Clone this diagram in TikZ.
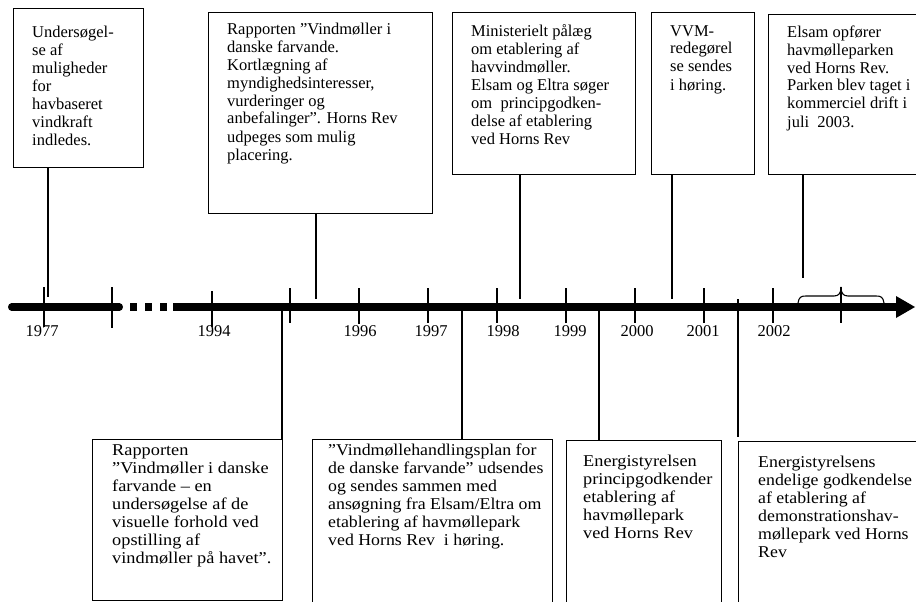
\documentclass[tikz,border=0pt]{standalone}
\usepackage{fontspec}
\setmainfont{Liberation Serif}
\newfontfamily\wideA[FakeStretch=1.11]{Liberation Serif}
\newfontfamily\wideB[FakeStretch=1.08]{Liberation Serif}
\begin{document}
\begin{tikzpicture}[x=1pt,y=-1pt,
  box/.style={draw=black,line width=1.2pt,fill=white,inner sep=0pt,anchor=north west},
  txt/.style={anchor=base west,inner sep=0pt,align=left,font=\fontsize{16.5}{18}\selectfont},
  txtA/.style={txt,font=\wideA\fontsize{16.5}{18}\selectfont},
  txtB/.style={txt,font=\wideB\fontsize{16.5}{18}\selectfont},
  yr/.style={anchor=base,inner sep=0pt,font=\fontsize{16.5}{18}\selectfont},
  conn/.style={line width=1.2pt},
  tick/.style={line width=1.2pt}]
\useasboundingbox (0,0) rectangle (916,602);
\clip (0,0) rectangle (916,602);
\fill[white] (0,0) rectangle (916,602);

% ---- top boxes (text nodes anchored at the baseline of their last line)
\node[box,minimum width=130pt,minimum height=159pt] (b1) at (13,8) {};
\node[txt] (x1) at (32,145) {Undersøgel-\\se af\\muligheder\\for\\havbaseret\\vindkraft\\indledes.};

\node[box,minimum width=224pt,minimum height=201pt] (b2) at (208,12) {};
\node[txt] (x2) at (227,160) {Rapporten ”Vindmøller i\\danske farvande.\\Kortlægning af\\myndighedsinteresser,\\vurderinger og\\anbefalinger”. Horns Rev\\udpeges som mulig\\placering.};

\node[box,minimum width=183pt,minimum height=162pt] (b3) at (452,12) {};
\node[txt] (x3) at (471,144) {Ministerielt pålæg\\om etablering af\\havvindmøller.\\Elsam og Eltra søger\\om~ principgodken-\\delse af etablering\\ved Horns Rev};

\node[box,minimum width=103pt,minimum height=162pt] (b4) at (651,12) {};
\node[txt] (x4) at (670,90) {VVM-\\redegørel\\se sendes\\i høring.};

\node[box,minimum width=160pt,minimum height=160pt] (b5) at (768,14) {};
\node[txt] (x5) at (787,127) {Elsam opfører\\havmølleparken\\ved Horns Rev.\\Parken blev taget i\\kommerciel drift i\\juli~ 2003.};

% ---- bottom boxes
\node[box,minimum width=190pt,minimum height=161pt] (b6) at (92,439) {};
\node[txtA] (x6) at (112,563) {Rapporten\\”Vindmøller i danske\\farvande – en\\undersøgelse af de\\visuelle forhold ved\\opstilling af\\vindmøller på havet”.};

\node[box,minimum width=240pt,minimum height=180pt] (b7) at (312,439) {};
\node[txtB] (x7) at (328,545) {”Vindmøllehandlingsplan for\\de danske farvande” udsendes\\og sendes sammen med\\ansøgning fra Elsam/Eltra om\\etablering af havmøllepark\\ved Horns Rev~ i høring.};

\node[box,minimum width=155pt,minimum height=180pt] (b8) at (566,440) {};
\node[txtA] (x8) at (583,538) {Energistyrelsen\\principgodkender\\etablering af\\havmøllepark\\ved Horns Rev};

\node[box,minimum width=190pt,minimum height=180pt] (b9) at (738,441) {};
\node[txtB] (x9) at (758,557) {Energistyrelsens\\endelige godkendelse\\af etablering af\\demonstrationshav-\\møllepark ved Horns\\Rev};

% ---- axis
\draw[line width=7.3pt,line cap=round] (11.65,307) -- (119.35,307);
\foreach \a in {130,145,160} \fill (\a,303.35) rectangle ++(7,7.3);
\draw[line width=7.3pt] (173,307) -- (898,307);
\fill (896,296) -- (915,307) -- (896,318) -- cycle;

% ticks
\foreach \x/\a/\b in {44/287/327,112/287/328,212/291/327,290/288/323,359/288/324,428/288/323,497/288/323,566/288/323,635/288/323,704/288/323,773/288/323,841/287/323}
  \draw[tick] (\x,\a) -- (\x,\b);

% brace
\draw[line width=1.1pt] (798,303) .. controls (799,297) and (801,296) .. (806,296) -- (834,296)
  .. controls (839,296) and (841,293) .. (841,287)
  .. controls (841,293) and (843,296) .. (848,296) -- (876,296)
  .. controls (881,296) and (883,297) .. (884,303);

% year labels
\node[yr] (y1977) at (42,336) {1977};
\node[yr] (y1994) at (214,336) {1994};
\node[yr] (y1996) at (360,336) {1996};
\node[yr] (y1997) at (431,336) {1997};
\node[yr] (y1998) at (503,336) {1998};
\node[yr] (y1999) at (570,336) {1999};
\node[yr] (y2000) at (637,336) {2000};
\node[yr] (y2001) at (703,336) {2001};
\node[yr] (y2002) at (774,336) {2002};

% ---- connectors
\coordinate (t1) at (48,297);
\coordinate (t2) at (316,299);
\coordinate (t3) at (520,299);
\coordinate (t4) at (672,299);
\coordinate (t5) at (803,278);
\draw[conn] (b1.south -| t1) -- (t1);
\draw[conn] (b2.south -| t2) -- (t2);
\draw[conn] (b3.south -| t3) -- (t3);
\draw[conn] (b4.south -| t4) -- (t4);
\draw[conn] (b5.south -| t5) -- (t5);

\coordinate (s6) at (282,310);
\coordinate (s7) at (462,307);
\coordinate (s8) at (599,307);
\coordinate (s9) at (738,299);
\draw[conn] (s6) -- (s6 |- b6.north);
\draw[conn] (s7) -- (s7 |- b7.north);
\draw[conn] (s8) -- (s8 |- b8.north);
\draw[conn] (s9) -- ([yshift=4pt]s9 |- b9.north);
\end{tikzpicture}
\end{document}
